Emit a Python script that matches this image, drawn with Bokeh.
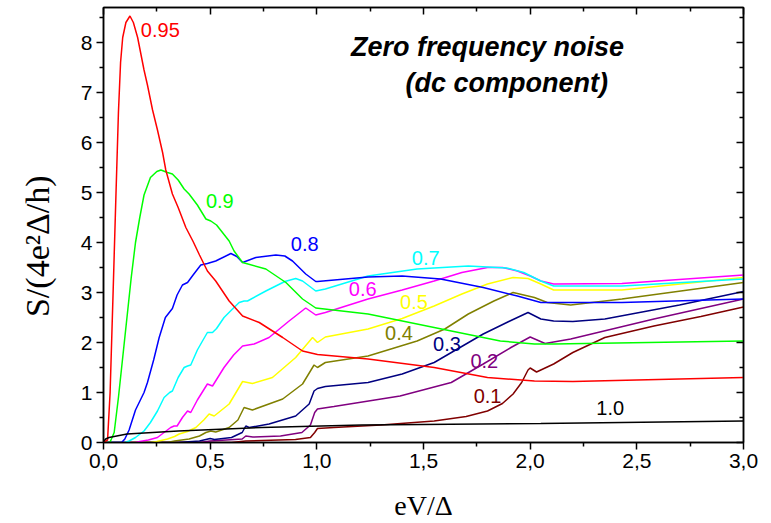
from bokeh.plotting import figure
from bokeh.models import LinearAxis, FixedTicker, Range1d, Label
from bokeh.embed import file_html
from bokeh.resources import INLINE

# ---------------- data ----------------
transparencies = ["0.1", "0.2", "0.3", "0.4", "0.5", "0.6", "0.7", "0.8", "0.9", "0.95", "1.0"]

x_01 = [0, 0.6, 0.667, 0.9, 0.97, 0.99, 1.003, 1.08, 1.3, 1.55, 1.7, 1.8, 1.87, 1.92, 1.96, 1.99, 2.0, 2.03, 2.11, 2.2, 2.35, 2.58, 2.8, 3.0]
y_01 = [0, 0, 0.03, 0.06, 0.1, 0.2, 0.28, 0.3, 0.35, 0.43, 0.52, 0.63, 0.78, 0.97, 1.2, 1.45, 1.49, 1.41, 1.57, 1.8, 2.1, 2.33, 2.52, 2.71]

x_02 = [0, 0.45, 0.5, 0.65, 0.667, 0.7, 0.83, 0.93, 0.97, 0.99, 1.003, 1.08, 1.39, 1.63, 1.78, 1.91, 2.0, 2.07, 2.19, 2.58, 3.0]
y_02 = [0, 0, 0.03, 0.07, 0.13, 0.11, 0.13, 0.2, 0.35, 0.6, 0.67, 0.72, 0.93, 1.2, 1.57, 1.9, 2.11, 1.98, 2.07, 2.47, 2.87]

x_03 = [0, 0.35, 0.45, 0.5, 0.52, 0.6, 0.65, 0.667, 0.683, 0.776, 0.901, 0.964, 0.987, 1.003, 1.04, 1.24, 1.4, 1.55, 1.78, 1.9, 1.99, 2.05, 2.11, 2.2, 2.35, 2.7, 3.0]
y_03 = [0, 0, 0.03, 0.08, 0.06, 0.1, 0.2, 0.33, 0.3, 0.37, 0.53, 0.77, 1.03, 1.08, 1.12, 1.2, 1.37, 1.6, 2.17, 2.42, 2.6, 2.47, 2.43, 2.42, 2.47, 2.75, 3.02]

x_04 = [0, 0.3, 0.333, 0.401, 0.45, 0.48, 0.503, 0.526, 0.589, 0.63, 0.659, 0.698, 0.84, 0.933, 0.987, 1.003, 1.04, 1.24, 1.47, 1.6, 1.71, 1.83, 1.92, 2.02, 2.08, 2.19, 2.43, 3.0]
y_04 = [0, 0, 0.03, 0.07, 0.13, 0.2, 0.23, 0.21, 0.3, 0.45, 0.7, 0.65, 0.87, 1.17, 1.55, 1.5, 1.6, 1.73, 2.03, 2.27, 2.57, 2.83, 3.0, 2.9, 2.8, 2.75, 2.87, 3.2]

x_05 = [0, 0.22, 0.25, 0.3, 0.333, 0.355, 0.394, 0.433, 0.47, 0.495, 0.519, 0.589, 0.652, 0.698, 0.792, 0.901, 0.98, 1.003, 1.04, 1.24, 1.4, 1.55, 1.68, 1.8, 1.92, 1.99, 2.05, 2.11, 2.43, 3.0]
y_05 = [0, 0, 0.02, 0.07, 0.12, 0.17, 0.22, 0.3, 0.45, 0.57, 0.53, 0.77, 1.22, 1.18, 1.3, 1.7, 2.1, 2.0, 2.11, 2.27, 2.48, 2.73, 2.97, 3.17, 3.3, 3.28, 3.17, 3.05, 3.05, 3.3]

x_06 = [0, 0.15, 0.17, 0.21, 0.253, 0.29, 0.315, 0.331, 0.345, 0.37, 0.394, 0.409, 0.44, 0.487, 0.511, 0.565, 0.61, 0.652, 0.706, 0.776, 0.87, 0.948, 0.995, 1.04, 1.24, 1.4, 1.55, 1.68, 1.8, 1.87, 1.94, 2.0, 2.05, 2.11, 2.43, 3.0]
y_06 = [0, 0, 0.02, 0.05, 0.1, 0.22, 0.3, 0.33, 0.33, 0.5, 0.63, 0.6, 0.85, 1.17, 1.13, 1.5, 1.75, 1.93, 1.97, 2.1, 2.43, 2.69, 2.55, 2.6, 2.87, 3.05, 3.23, 3.4, 3.5, 3.5, 3.43, 3.33, 3.23, 3.17, 3.18, 3.35]

x_07 = [0, 0.1, 0.12, 0.15, 0.19, 0.22, 0.253, 0.284, 0.31, 0.323, 0.35, 0.378, 0.394, 0.409, 0.44, 0.464, 0.487, 0.511, 0.53, 0.565, 0.6, 0.636, 0.659, 0.675, 0.761, 0.85, 0.901, 0.933, 0.995, 1.04, 1.24, 1.47, 1.71, 1.89, 1.97, 2.05, 2.11, 2.43, 3.0]
y_07 = [0, 0, 0.03, 0.1, 0.23, 0.4, 0.63, 0.9, 1.0, 1.03, 1.3, 1.5, 1.53, 1.55, 1.85, 2.03, 2.2, 2.2, 2.28, 2.5, 2.65, 2.8, 2.83, 2.83, 3.03, 3.22, 3.28, 3.23, 3.03, 3.07, 3.33, 3.47, 3.53, 3.49, 3.4, 3.23, 3.13, 3.13, 3.27]

x_08 = [0, 0.085, 0.1, 0.12, 0.15, 0.19, 0.206, 0.235, 0.261, 0.29, 0.323, 0.345, 0.37, 0.394, 0.42, 0.456, 0.487, 0.526, 0.597, 0.625, 0.652, 0.714, 0.808, 0.85, 0.886, 0.948, 0.995, 1.003, 1.24, 1.4, 1.58, 1.78, 1.94, 2.05, 2.11, 2.43, 3.0]
y_08 = [0, 0, 0.07, 0.25, 0.65, 1.0, 1.2, 1.65, 2.1, 2.5, 2.68, 2.95, 3.15, 3.2, 3.35, 3.55, 3.58, 3.63, 3.78, 3.72, 3.6, 3.7, 3.75, 3.73, 3.63, 3.37, 3.22, 3.22, 3.31, 3.33, 3.27, 3.1, 2.93, 2.8, 2.8, 2.8, 2.87]

x_09 = [0, 0.03, 0.05, 0.07, 0.09, 0.11, 0.13, 0.15, 0.17, 0.19, 0.22, 0.25, 0.269, 0.3, 0.323, 0.35, 0.378, 0.401, 0.44, 0.48, 0.503, 0.53, 0.589, 0.612, 0.652, 0.761, 0.855, 0.933, 0.995, 1.24, 1.55, 1.86, 2.02, 2.11, 3.0]
y_09 = [0, 0, 0.2, 0.9, 1.7, 2.5, 3.3, 4.0, 4.5, 4.95, 5.3, 5.42, 5.45, 5.4, 5.37, 5.25, 5.07, 4.97, 4.75, 4.47, 4.43, 4.35, 4.03, 3.83, 3.6, 3.47, 3.2, 2.87, 2.69, 2.57, 2.3, 2.03, 1.97, 1.97, 2.03]

x_095 = [0, 0.019, 0.031, 0.045, 0.058, 0.07, 0.08, 0.09, 0.105, 0.124, 0.14, 0.16, 0.19, 0.206, 0.23, 0.253, 0.277, 0.292, 0.323, 0.35, 0.386, 0.42, 0.45, 0.487, 0.526, 0.589, 0.652, 0.73, 0.84, 0.933, 1.003, 1.24, 1.55, 1.8, 2.02, 2.2, 2.5, 3.0]
y_095 = [0, 0.05, 1.0, 3.0, 4.9, 6.6, 7.6, 8.1, 8.4, 8.53, 8.4, 8.1, 7.45, 7.15, 6.65, 6.25, 5.8, 5.45, 4.97, 4.7, 4.3, 4.02, 3.75, 3.43, 3.23, 2.83, 2.53, 2.4, 2.1, 1.83, 1.76, 1.67, 1.5, 1.3, 1.23, 1.22, 1.25, 1.3]

x_10 = [0, 0.01, 0.026, 0.11, 0.35, 0.74, 1.21, 2.05, 3.0]
y_10 = [0.02, 0.07, 0.1, 0.17, 0.23, 0.3, 0.35, 0.38, 0.43]

series_x = [x_01, x_02, x_03, x_04, x_05, x_06, x_07, x_08, x_09, x_095, x_10]
series_y = [y_01, y_02, y_03, y_04, y_05, y_06, y_07, y_08, y_09, y_095, y_10]

x_tick_values = [0.0, 0.5, 1.0, 1.5, 2.0, 2.5, 3.0]
x_tick_labels = ["0,0", "0,5", "1,0", "1,5", "2,0", "2,5", "3,0"]
x_minor_values = [0.25, 0.75, 1.25, 1.75, 2.25, 2.75]
y_tick_values = [0, 1, 2, 3, 4, 5, 6, 7, 8]
y_minor_values = [0.5, 1.5, 2.5, 3.5, 4.5, 5.5, 6.5, 7.5, 8.5]

# ---------------- styles / positions ----------------
colors = ["#800000", "#800080", "#000080", "#808000", "#FFFF00", "#FF00FF",
          "#00FFFF", "#0000FF", "#00FF00", "#FF0000", "#000000"]
label_x = [1.735, 1.72, 1.545, 1.32, 1.39, 1.15, 1.445, 0.878, 0.48, 0.175, 2.31]
label_y = [0.94, 1.64, 1.97, 2.2, 2.82, 3.08, 3.69, 3.97, 4.83, 8.25, 0.7]

SANS = "Liberation Sans"
SERIF = "Liberation Serif"

p = figure(width=771, height=523, x_range=Range1d(0, 3), y_range=Range1d(0, 8.7),
           output_backend="svg", toolbar_location=None,
           min_border_left=103, min_border_right=28, min_border_top=7, min_border_bottom=81)
p.grid.visible = False
p.outline_line_color = "black"
p.outline_line_width = 1.5
p.background_fill_color = "white"
p.border_fill_color = "white"

for xs, ys, c in zip(series_x, series_y, colors):
    p.line(xs, ys, line_color=c, line_width=1.5)

for t, lx, ly, c in zip(transparencies, label_x, label_y, colors):
    p.add_layout(Label(x=lx, y=ly, text=t, text_color=c, text_font=SANS,
                       text_font_size="20px", text_baseline="middle", text_align="left"))

p.add_layout(Label(x=1.80, y=7.91, text="Zero frequency noise", text_font=SANS,
                   text_font_size="27px", text_font_style="bold italic", text_color="black",
                   text_align="center", text_baseline="middle"))
p.add_layout(Label(x=1.89, y=7.19, text="(dc component)", text_font=SANS,
                   text_font_size="27px", text_font_style="bold italic", text_color="black",
                   text_align="center", text_baseline="middle"))

xt = FixedTicker(ticks=x_tick_values, minor_ticks=x_minor_values)
yt = FixedTicker(ticks=y_tick_values, minor_ticks=y_minor_values)

ax = p.xaxis[0]
ax.ticker = xt
ax.major_label_overrides = {v: s for v, s in zip(x_tick_values, x_tick_labels)}
ay = p.yaxis[0]
ay.ticker = yt

for a in (ax, ay):
    a.axis_line_width = 1.5
    a.major_tick_line_width = 1.5
    a.minor_tick_line_width = 1.5
    a.major_tick_out = 7
    a.major_tick_in = 0
    a.minor_tick_out = 4
    a.minor_tick_in = 0
    a.major_label_text_font = SANS
    a.major_label_text_font_size = "21px"
    a.major_label_text_color = "black"
    a.major_label_standoff = 4
    a.axis_label_text_font = SERIF
    a.axis_label_text_font_style = "normal"
    a.axis_label_text_color = "black"

ax.axis_label = "eV/Δ"
ax.axis_label_text_font_size = "28px"
ax.axis_label_standoff = 19
# trailing no-break spaces nudge the rotated title a little below the frame centre
ay.axis_label = "S/(4e²Δ/h)" + "\u00a0" * 5
ay.axis_label_text_font_size = "34px"
ay.axis_label_standoff = 22

for loc, tk in (("right", yt), ("above", xt)):
    a2 = LinearAxis(ticker=tk, major_label_text_font_size="0px", major_label_standoff=0,
                    axis_line_width=1.5, major_tick_line_width=1.5, minor_tick_line_width=1.5,
                    major_tick_in=7, major_tick_out=0, minor_tick_in=4, minor_tick_out=0)
    a2.major_label_text_color = None
    p.add_layout(a2, loc)

open("out.html", "w").write(file_html(p, INLINE))
